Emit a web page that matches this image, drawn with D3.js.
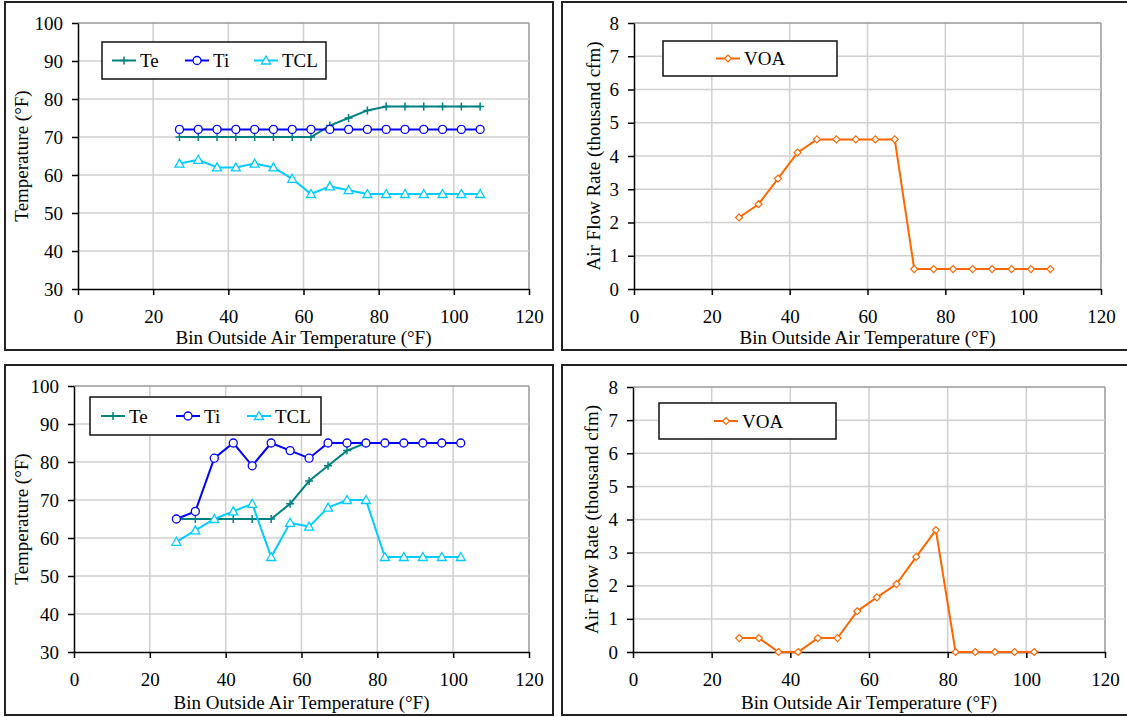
<!DOCTYPE html>
<html>
<head>
<meta charset="utf-8">
<script src="https://cdnjs.cloudflare.com/ajax/libs/d3/7.8.5/d3.min.js"></script>
<style>
  body { margin: 0; background: #fff; }
  svg, svg text { font-family: "Liberation Serif", "Times New Roman", serif !important; }
</style>
</head>
<body>
<svg id="chart" width="1127" height="717"></svg>
<script>
// ---- data ----
var binsTop = [27, 32, 37, 42, 47, 52, 57, 62, 67, 72, 77, 82, 87, 92, 97, 102, 107];
var teTop  = [70, 70, 70, 70, 70, 70, 70, 70, 73, 75, 77, 78, 78, 78, 78, 78, 78];
var tiTop  = [72, 72, 72, 72, 72, 72, 72, 72, 72, 72, 72, 72, 72, 72, 72, 72, 72];
var tclTop = [63, 64, 62, 62, 63, 62, 59, 55, 57, 56, 55, 55, 55, 55, 55, 55, 55];
var voaTop = [2.15, 2.55, 3.32, 4.1, 4.5, 4.5, 4.5, 4.5, 4.5, 0.6, 0.6, 0.6, 0.6, 0.6, 0.6, 0.6, 0.6];

var binsBottom = [27, 32, 37, 42, 47, 52, 57, 62, 67, 72, 77, 82, 87, 92, 97, 102];
var teBottom  = [65, 65, 65, 65, 65, 65, 69, 75, 79, 83, 85, 85, 85, 85, 85, 85];
var tiBottom  = [65, 67, 81, 85, 79, 85, 83, 81, 85, 85, 85, 85, 85, 85, 85, 85];
var tclBottom = [59, 62, 65, 67, 69, 55, 64, 63, 68, 70, 70, 55, 55, 55, 55, 55];
var voaBottom = [0.42, 0.42, 0, 0, 0.42, 0.42, 1.23, 1.65, 2.05, 2.87, 3.68, 0, 0, 0, 0, 0];

var xTicks = [0, 20, 40, 60, 80, 100, 120];
var tempTicks = [30, 40, 50, 60, 70, 80, 90, 100];
var flowTicks = [0, 1, 2, 3, 4, 5, 6, 7, 8];

var xTitle = "Bin Outside Air Temperature (\u00B0F)";
var tempTitle = "Temperature (\u00B0F)";
var flowTitle = "Air Flow Rate (thousand cfm)";

var svg = d3.select("#chart");
var FONT = 19;
var SERIF = "'Liberation Serif', 'Times New Roman', serif";

var colors = { Te: "#008080", Ti: "#0000ff", TCL: "#00ccff", VOA: "#ff6600" };

function drawMarker(g, type, x, y, color) {
  if (type === "plus") {
    g.append("path").attr("d", "M" + (x - 4) + "," + y + "H" + (x + 4) + "M" + x + "," + (y - 4) + "V" + (y + 4))
      .attr("stroke", color).attr("stroke-width", 1.5).attr("fill", "none");
  } else if (type === "circle") {
    g.append("circle").attr("cx", x).attr("cy", y).attr("r", 4)
      .attr("fill", "#fff").attr("stroke", color).attr("stroke-width", 1.3);
  } else if (type === "triangle") {
    g.append("path").attr("d", "M" + x + "," + (y - 4.5) + "L" + (x + 4.5) + "," + (y + 3.5) + "L" + (x - 4.5) + "," + (y + 3.5) + "Z")
      .attr("fill", "#fff").attr("stroke", color).attr("stroke-width", 1.3);
  } else if (type === "diamond") {
    g.append("path").attr("d", "M" + x + "," + (y - 3.5) + "L" + (x + 3.5) + "," + y + "L" + x + "," + (y + 3.5) + "L" + (x - 3.5) + "," + y + "Z")
      .attr("fill", "#fff").attr("stroke", color).attr("stroke-width", 1.2);
  }
}

function drawPanel(p) {
  // outer frame
  svg.append("rect")
    .attr("x", p.box[0]).attr("y", p.box[1])
    .attr("width", p.box[2] - p.box[0]).attr("height", p.box[3] - p.box[1])
    .attr("fill", "#fff").attr("stroke", "#222").attr("stroke-width", 2);

  var x = d3.scaleLinear().domain([0, 120]).range([p.left, p.right]);
  var y = d3.scaleLinear().domain(p.yDomain).range([p.bottom, p.top]);

  var grid = svg.append("g");
  grid.selectAll(".gx").data(xTicks.slice(1)).enter().append("line")
    .attr("x1", function (d) { return x(d); }).attr("x2", function (d) { return x(d); })
    .attr("y1", p.top).attr("y2", p.bottom)
    .attr("stroke", function (d) { return d === 120 ? "#999" : "#d0d0d0"; }).attr("stroke-width", 1.5);
  grid.selectAll(".gy").data(p.yTicks.slice(1)).enter().append("line")
    .attr("x1", p.left).attr("x2", p.right)
    .attr("y1", function (d) { return y(d); }).attr("y2", function (d) { return y(d); })
    .attr("stroke", function (d, i) { return i === p.yTicks.length - 2 ? "#999" : "#d0d0d0"; }).attr("stroke-width", 1.5);

  var xAxis = d3.axisBottom(x).tickValues(xTicks).tickSize(6).tickPadding(15).tickSizeOuter(0);
  var yAxis = d3.axisLeft(y).tickValues(p.yTicks).tickSize(6).tickPadding(9).tickSizeOuter(0);

  var gx = svg.append("g").attr("transform", "translate(0," + p.bottom + ")").call(xAxis);
  var gy = svg.append("g").attr("transform", "translate(" + p.left + ",0)").call(yAxis);
  [gx, gy].forEach(function (g) {
    g.attr("font-family", null).attr("font-size", FONT);
    g.selectAll("path, line").attr("stroke", "#000").attr("stroke-width", 1.5);
    g.selectAll("text").style("font-size", FONT + "px").style("font-family", SERIF).attr("fill", "#000");
  });

  // axis titles
  svg.append("text")
    .attr("x", (p.left + p.right) / 2).attr("y", p.xTitleY)
    .attr("text-anchor", "middle").attr("dominant-baseline", "central")
    .style("font-family", SERIF).style("font-size", FONT + "px").text(xTitle);
  svg.append("text")
    .attr("transform", "translate(" + p.yTitleX + "," + (p.top + p.bottom) / 2 + ") rotate(-90)")
    .attr("text-anchor", "middle").attr("dominant-baseline", "central")
    .style("font-family", SERIF).style("font-size", FONT + "px").text(p.yTitle);

  // series
  var line = d3.line()
    .x(function (d) { return x(d[0]); })
    .y(function (d) { return y(d[1]); });
  p.series.forEach(function (s) {
    var pts = p.bins.map(function (b, i) { return [b, s.values[i]]; });
    var g = svg.append("g");
    g.append("path").datum(pts).attr("d", line)
      .attr("fill", "none").attr("stroke", colors[s.name]).attr("stroke-width", 2);
    pts.forEach(function (d) { drawMarker(g, s.marker, x(d[0]), y(d[1]), colors[s.name]); });
  });

  // legend
  var L = p.legend;
  svg.append("rect")
    .attr("x", L.box[0]).attr("y", L.box[1])
    .attr("width", L.box[2] - L.box[0]).attr("height", L.box[3] - L.box[1])
    .attr("fill", "#fff").attr("stroke", "#111").attr("stroke-width", 1.5);
  var cy = (L.box[1] + L.box[3]) / 2;
  p.series.forEach(function (s, i) {
    var x0 = L.starts[i];
    var g = svg.append("g");
    g.append("line").attr("x1", x0).attr("x2", x0 + 24).attr("y1", cy).attr("y2", cy)
      .attr("stroke", colors[s.name]).attr("stroke-width", 2);
    drawMarker(g, s.marker, x0 + 12, cy, colors[s.name]);
    g.append("text").attr("x", x0 + 28).attr("y", cy)
      .attr("dominant-baseline", "central")
      .style("font-family", SERIF).style("font-size", FONT + "px").text(s.name);
  });
}

drawPanel({
  box: [5, 2, 553, 350], left: 78, right: 529, top: 23, bottom: 289,
  yDomain: [30, 100], yTicks: tempTicks, yTitle: tempTitle, yTitleX: 21, xTitleY: 337,
  bins: binsTop,
  series: [
    { name: "Te", values: teTop, marker: "plus" },
    { name: "Ti", values: tiTop, marker: "circle" },
    { name: "TCL", values: tclTop, marker: "triangle" }
  ],
  legend: { box: [102, 42, 326, 79], starts: [112, 185, 254] }
});

drawPanel({
  box: [562, 2, 1140, 350], left: 634, right: 1101, top: 23, bottom: 289,
  yDomain: [0, 8], yTicks: flowTicks, yTitle: flowTitle, yTitleX: 593, xTitleY: 337,
  bins: binsTop,
  series: [{ name: "VOA", values: voaTop, marker: "diamond" }],
  legend: { box: [663, 41, 837, 76], starts: [716] }
});

drawPanel({
  box: [5, 365, 553, 715], left: 74, right: 529, top: 386, bottom: 652,
  yDomain: [30, 100], yTicks: tempTicks, yTitle: tempTitle, yTitleX: 21, xTitleY: 702,
  bins: binsBottom,
  series: [
    { name: "Te", values: teBottom, marker: "plus" },
    { name: "Ti", values: tiBottom, marker: "circle" },
    { name: "TCL", values: tclBottom, marker: "triangle" }
  ],
  legend: { box: [90, 397, 321, 435], starts: [101, 176, 247] }
});

drawPanel({
  box: [562, 365, 1140, 715], left: 633, right: 1105, top: 387, bottom: 652,
  yDomain: [0, 8], yTicks: flowTicks, yTitle: flowTitle, yTitleX: 591, xTitleY: 702,
  bins: binsBottom,
  series: [{ name: "VOA", values: voaBottom, marker: "diamond" }],
  legend: { box: [659, 403, 836, 439], starts: [714] }
});
</script>
</body>
</html>
